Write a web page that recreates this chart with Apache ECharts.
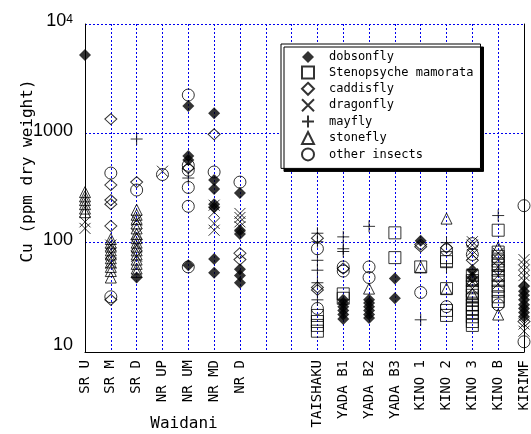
<!DOCTYPE html>
<html>
<head>
<meta charset="utf-8">
<script src="https://cdn.jsdelivr.net/npm/echarts@6/dist/echarts.min.js"></script>
<style>html,body{margin:0;padding:0;background:#fff;}#c{width:531px;height:434px;}</style>
</head>
<body>
<div id="c"></div>
<script>
// Sampling sites (x axis), two unlabeled gaps between groups
const sites = ['SR U','SR M','SR D','NR UP','NR UM','NR MD','NR D','','',
  'TAISHAKU','YADA B1','YADA B2','YADA B3','KINO 1','KINO 2','KINO 3','KINO B','KIRIMF'];
const yTicks = [10, 100, 1000, 10000];

// Cu concentrations (ppm dry weight) per taxon: [site, value]
const dobsonfly = [
  ['SR U',5200],['SR D',48],
  ['NR UM',1780],['NR UM',620],['NR UM',570],['NR UM',62],
  ['NR MD',1530],['NR MD',375],['NR MD',310],['NR MD',225],['NR MD',210],['NR MD',71],['NR MD',53],
  ['NR D',285],['NR D',130],['NR D',120],['NR D',57],['NR D',50],['NR D',43],
  ['YADA B1',30],['YADA B1',28],['YADA B1',26],['YADA B1',24],['YADA B1',22],['YADA B1',20],
  ['YADA B2',30],['YADA B2',28],['YADA B2',26],['YADA B2',24],['YADA B2',22],['YADA B2',20.5],
  ['YADA B3',47],['YADA B3',31],
  ['KINO 1',104],['KINO 3',56],['KINO 3',48],
  ['KIRIMF',40],['KIRIMF',36],['KIRIMF',33],['KIRIMF',30],['KIRIMF',27],['KIRIMF',25],['KIRIMF',23],['KIRIMF',21]
];
const stenopsyche = [
  ['TAISHAKU',21.6],['TAISHAKU',19],['TAISHAKU',17.5],['TAISHAKU',15.5],
  ['YADA B1',34],['YADA B1',31],
  ['YADA B3',123],['YADA B3',73],
  ['KINO 1',60],
  ['KINO 2',73],['KINO 2',67],['KINO 2',38],['KINO 2',24],['KINO 2',21.6],
  ['KINO 3',50],['KINO 3',45],['KINO 3',40],['KINO 3',36],['KINO 3',33],['KINO 3',30],['KINO 3',27],['KINO 3',25],['KINO 3',23],['KINO 3',21],['KINO 3',19],['KINO 3',17.5],
  ['KINO B',130],['KINO B',82],['KINO B',75],['KINO B',68],['KINO B',62],['KINO B',56],['KINO B',50],['KINO B',45],['KINO B',40],['KINO B',36],['KINO B',32],['KINO B',29]
];
const caddisfly = [
  ['SR M',1350],['SR M',337],['SR M',245],['SR M',225],['SR M',142],['SR M',30],
  ['SR D',358],
  ['NR UM',480],
  ['NR MD',980],
  ['NR D',80],['NR D',70],
  ['TAISHAKU',110],['TAISHAKU',39],['TAISHAKU',37],
  ['YADA B1',58],
  ['KINO 1',96],['KINO 1',92],
  ['KINO 2',90],
  ['KINO 3',69],
  ['KIRIMF',19]
];
const dragonfly = [
  ['SR U',155],['SR U',135],
  ['SR M',95],['SR M',80],['SR M',65],
  ['SR D',160],['SR D',120],['SR D',95],['SR D',75],
  ['NR UP',450],
  ['NR MD',220],['NR MD',190],['NR MD',150],['NR MD',130],
  ['NR D',185],['NR D',170],['NR D',155],['NR D',140],
  ['KINO 3',102],['KINO 3',95],['KINO 3',85],['KINO 3',78],['KINO 3',52],['KINO 3',44],['KINO 3',38],
  ['KINO B',80],['KINO B',70],['KINO B',60],['KINO B',50],['KINO B',42],
  ['KIRIMF',70],['KIRIMF',63],['KIRIMF',56],['KIRIMF',50],['KIRIMF',45],['KIRIMF',18],['KIRIMF',15.5]
];
const mayfly = [
  ['SR D',887],
  ['NR UM',390],
  ['TAISHAKU',122],['TAISHAKU',102],['TAISHAKU',69],['TAISHAKU',56],['TAISHAKU',43],['TAISHAKU',30],
  ['YADA B1',113],['YADA B1',88],['YADA B1',83],
  ['YADA B2',141],
  ['KINO 1',19.7],
  ['KINO 2',100],['KINO 2',60],
  ['KINO 3',28],['KINO 3',24],
  ['KINO B',177],['KINO B',55]
];
const stonefly = [
  ['SR U',290],['SR U',265],['SR U',245],['SR U',225],['SR U',205],['SR U',190],
  ['SR M',108],['SR M',100],['SR M',92],['SR M',85],['SR M',78],['SR M',72],['SR M',66],['SR M',60],['SR M',55],['SR M',48],
  ['SR D',200],['SR D',180],['SR D',165],['SR D',150],['SR D',135],['SR D',120],['SR D',110],['SR D',100],['SR D',92],['SR D',85],['SR D',78],['SR D',70],['SR D',64],['SR D',58],['SR D',54],
  ['YADA B2',38],
  ['KINO 1',60],
  ['KINO 2',166],['KINO 2',38],
  ['KINO 3',46],['KINO 3',34],
  ['KINO B',90],['KINO B',22]
];
const otherInsects = [
  ['SR M',433],['SR M',32],
  ['SR D',303],
  ['NR UP',420],
  ['NR UM',2240],['NR UM',510],['NR UM',460],['NR UM',320],['NR UM',215],['NR UM',60],
  ['NR MD',443],
  ['NR D',358],
  ['TAISHAKU',88],['TAISHAKU',25],
  ['YADA B1',60],['YADA B1',55],
  ['YADA B2',60],['YADA B2',48],
  ['KINO 1',35],
  ['KINO 2',86],['KINO 2',26],
  ['KINO 3',98],['KINO 3',78],
  ['KINO B',27],
  ['KIRIMF',218],['KIRIMF',12.4]
];

const MONO = 'DejaVu Sans Mono';
const BLUE = '#0000ee';
const openStyle = {color: 'rgba(255,255,255,0)', borderColor: '#000', borderWidth: 1};
const X_PATH = 'path://M0,0L10,10M10,0L0,10';
const PLUS_PATH = 'path://M5,0L5,10M0,5L10,5';

function mk(name, data, symbol, size, style) {
  return {
    name, type: 'scatter', data, symbol, symbolSize: size, symbolKeepAspect: true,
    itemStyle: style, emphasis: {disabled: true}, z: 3
  };
}

const chart = echarts.init(document.getElementById('c'), null, {renderer: 'canvas'});
chart.setOption({
  animation: false,
  backgroundColor: '#fff',
  grid: {left: 85, right: 3, top: 24, bottom: 82, containLabel: false},
  xAxis: {
    type: 'category', data: sites, boundaryGap: false,
    axisLine: {lineStyle: {color: '#000', width: 1}},
    axisTick: {show: false},
    axisLabel: {interval: 0, rotate: 90, margin: 8, color: '#000', fontFamily: MONO, fontSize: 14},
    splitLine: {show: true, interval: 0, lineStyle: {color: BLUE, type: [2, 2], width: 1}}
  },
  yAxis: [{
    type: 'log', logBase: 10, min: 10, max: 10000,
    axisLine: {show: true, lineStyle: {color: '#000', width: 1}},
    axisTick: {show: false},
    minorTick: {show: false},
    axisLabel: {
      margin: 12, color: '#000',
      formatter: v => v >= 10000 ? '{a|10}{s|4}' : (v <= 10 ? '{l|' + v + '}' : '{a|' + v + '}'),
      rich: {
        a: {fontFamily: 'Liberation Sans', fontSize: 18, lineHeight: 20, padding: [0,0,5,0]},
        l: {fontFamily: 'Liberation Sans', fontSize: 18, lineHeight: 20, padding: [0,0,14,0]},
        s: {fontFamily: 'Liberation Sans', fontSize: 12, lineHeight: 12, verticalAlign: 'top', padding: [0,0,0,0]}
      }
    },
    splitLine: {show: true, lineStyle: {color: BLUE, type: [2, 2], width: 1}}
  }, {
    type: 'log', logBase: 10, min: 10, max: 10000, position: 'right',
    axisLine: {show: true, onZero: false, lineStyle: {color: '#000', width: 1}},
    axisTick: {show: false}, axisLabel: {show: false}, splitLine: {show: false}
  }],
  legend: {
    orient: 'vertical', left: 281, top: 44,
    padding: [7, 7, 7, 20],
    itemWidth: 12, itemHeight: 12, itemGap: 2.4,
    symbolKeepAspect: true,
    backgroundColor: '#fff', borderColor: '#000', borderWidth: 1,
    shadowColor: '#000', shadowBlur: 0, shadowOffsetX: 3, shadowOffsetY: 3,
    textStyle: {fontFamily: MONO, fontSize: 12, color: '#000', padding: [0,0,0,10]},
    selectedMode: false,
    data: ['dobsonfly','Stenopsyche mamorata','caddisfly','dragonfly','mayfly','stonefly','other insects']
  },
  graphic: [
    {type: 'text', x: 28, y: 171, rotation: Math.PI / 2,
     style: {text: 'Cu (ppm dry weight)', fontFamily: MONO, fontSize: 16, fill: '#000', align: 'center', verticalAlign: 'middle'}},
    {type: 'text', x: 184, y: 424,
     style: {text: 'Waidani', fontFamily: MONO, fontSize: 16, fill: '#000', align: 'center', verticalAlign: 'middle'}}
  ],
  series: [
    mk('dobsonfly', dobsonfly, 'diamond', 12, {color: '#000'}),
    mk('Stenopsyche mamorata', stenopsyche, 'rect', 12, openStyle),
    mk('caddisfly', caddisfly, 'diamond', [12, 11], openStyle),
    mk('dragonfly', dragonfly, X_PATH, 11, openStyle),
    mk('mayfly', mayfly, PLUS_PATH, 12, openStyle),
    mk('stonefly', stonefly, 'triangle', 11, openStyle),
    mk('other insects', otherInsects, 'circle', 12, openStyle)
  ]
});
</script>
</body>
</html>
